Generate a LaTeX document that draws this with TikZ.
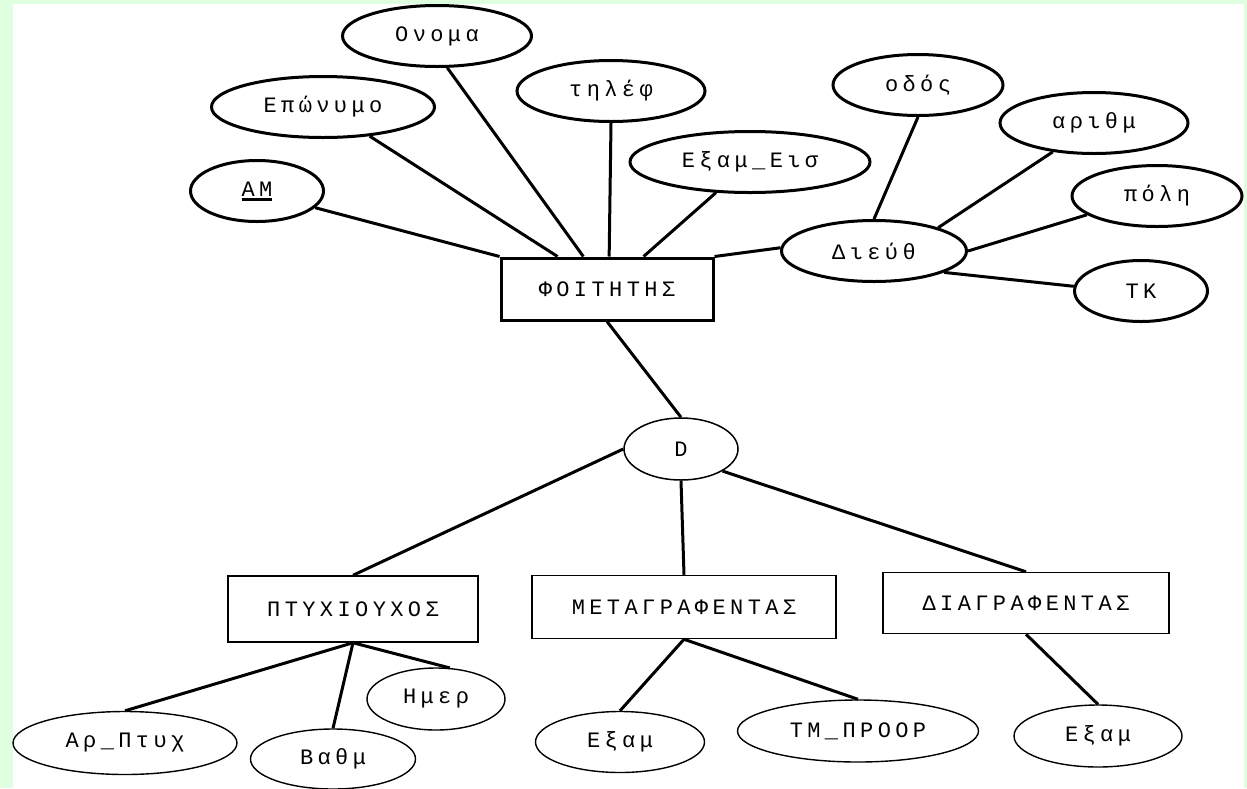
\documentclass[tikz,border=0pt]{standalone}
\usepackage{fontspec}
\usepackage{tikz}
\usetikzlibrary{shapes.geometric, calc}
\newfontfamily\ermono{Liberation Mono}[LetterSpace=20]
\definecolor{ermint}{HTML}{E0FFE0}
\newcommand{\keyattr}[1]{\vtop{\hbox{#1}\kern2pt\hrule height 2.5pt}}

\begin{document}
\begin{tikzpicture}[
    x=1pt, y=-1pt,
    every node/.style={font=\ermono\fontsize{22}{26}\selectfont, inner sep=0pt},
    entity/.style={rectangle, draw, line width=3pt, minimum width=212pt, minimum height=62pt},
    subent/.style={rectangle, draw, line width=1.5pt, minimum height=63pt},
    attr/.style={ellipse, draw, line width=3pt, minimum height=61pt},
    subattr/.style={ellipse, draw, line width=1.4pt, minimum height=61pt},
    spec/.style={ellipse, draw, line width=1.5pt, minimum width=114pt, minimum height=62pt},
    link/.style={line width=3pt},
]

% ===== Frame =====
\useasboundingbox (0,0) rectangle (1247,788);
\fill[ermint] (0,0) rectangle (1247,788);
\fill[white] (13,4) rectangle (1244,788);

% ===== Entity: ΦΟΙΤΗΤΗΣ =====
\node[entity] (foit) at (607,289) {ΦΟΙΤΗΤΗΣ};

\node[attr, minimum width=189pt] (onoma) at (437,36) {Ονομα};
\node[attr, minimum width=223pt] (eponymo) at (323,107) {Επώνυμο};
\node[attr, minimum width=133pt] (am) at (257,191) {\keyattr{ΑΜ}};
\node[attr, minimum width=188pt] (tilef) at (611,91) {τηλέφ};
\node[attr, minimum width=240pt] (exameis) at (750,162) {Εξαμ\textunderscore Εισ};

\draw[link] (am.-16) -- (foit.north west);
\draw[link] (eponymo.-32) -- ($(foit.north west)!0.27!(foit.north east)$);
\draw[link] (onoma.-72) -- ($(foit.north west)!0.39!(foit.north east)$);
\draw[link] (tilef.south) -- ($(foit.north west)!0.51!(foit.north east)$);
\draw[link] (exameis.-138) -- ($(foit.north west)!0.67!(foit.north east)$);

% ===== Composite attribute: Διεύθ =====
\node[attr, minimum width=185pt] (dieuth) at (874,251) {Διεύθ};
\node[attr, minimum width=170pt] (odos) at (918,85) {οδός};
\node[attr, minimum width=188pt] (arithm) at (1094,123) {αριθμ};
\node[attr, minimum width=170pt] (poli) at (1157,196) {πόλη};
\node[attr, minimum width=133pt] (tk) at (1141,291) {ΤΚ};

\draw[link] (foit.north east) -- (dieuth.178);
\draw[link] (dieuth.north) -- (odos.south);
\draw[link] (dieuth.20) -- (arithm.-145);
\draw[link] (dieuth.east) -- (poli.-165);
\draw[link] (dieuth.-17) -- (tk.176);

% ===== Specialisation =====
\node[spec] (d) at (681,449) {D};
\draw[link] (foit.south) -- (d.north);

\node[subent, minimum width=250pt, minimum height=66pt] (ptyx) at (353,609) {ΠΤΥΧΙΟΥΧΟΣ};
\node[subent, minimum width=304pt] (meta) at (684,607) {ΜΕΤΑΓΡΑΦΕΝΤΑΣ};
\node[subent, minimum width=286pt, minimum height=61pt] (diag) at (1026,603) {ΔΙΑΓΡΑΦΕΝΤΑΣ};

\draw[link] (d.west) -- (ptyx.north);
\draw[link] (d.south) -- (meta.north);
\draw[link] (d.-28) -- (diag.north);

% ===== Subclass attributes =====
\node[subattr, minimum width=224pt, minimum height=63pt] (arptyx) at (125,743) {Αρ\textunderscore Πτυχ};
\node[subattr, minimum width=165pt, minimum height=60pt] (vathm) at (333,759) {Βαθμ};
\node[subattr, minimum width=138pt, minimum height=62pt] (imer) at (436,699) {Ημερ};

\draw[link] (ptyx.south) -- (arptyx.north);
\draw[link] (ptyx.south) -- (vathm.north);
\draw[link] (ptyx.south) -- (imer.66);

\node[subattr, minimum width=169pt] (exam1) at (620,742) {Εξαμ};
\node[subattr, minimum width=241pt, minimum height=62pt] (tm) at (858,731) {ΤΜ\textunderscore ΠΡΟΟΡ};
\node[subattr, minimum width=168pt, minimum height=62pt] (exam2) at (1098,736) {Εξαμ};

\draw[link] (meta.south) -- (exam1.north);
\draw[link] (meta.south) -- (tm.north);
\draw[link] (diag.south) -- (exam2.north);

\end{tikzpicture}
\end{document}
